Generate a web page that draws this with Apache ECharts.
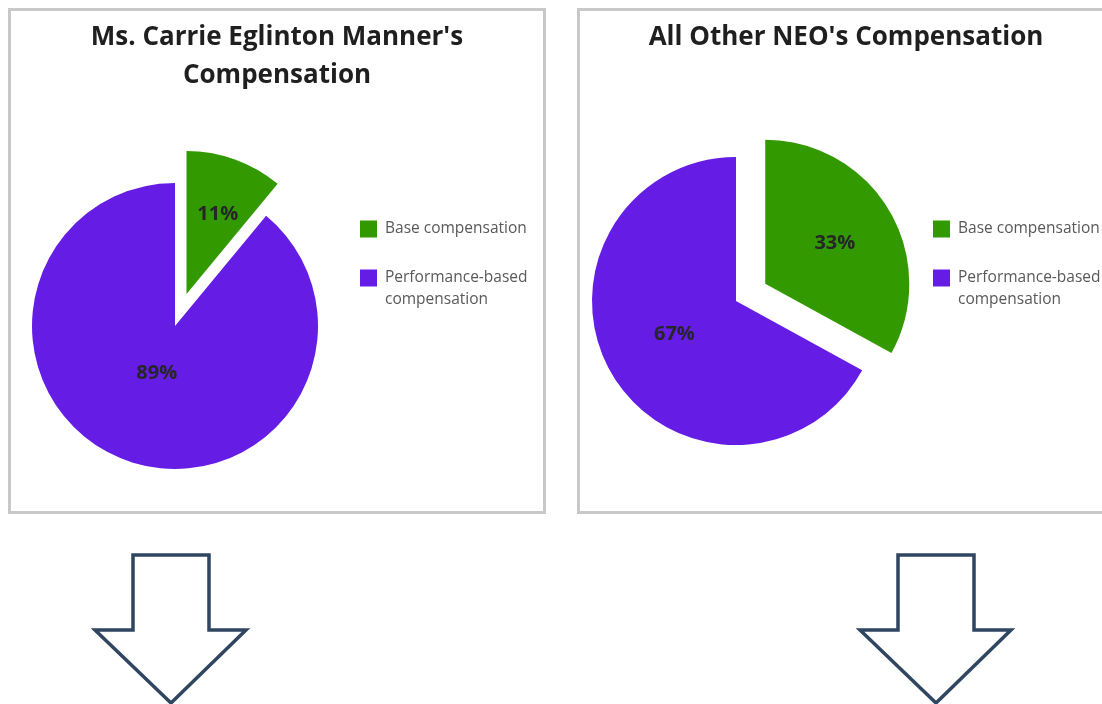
<!DOCTYPE html>
<html>
<head>
<meta charset="utf-8">
<script src="https://cdn.jsdelivr.net/npm/echarts@6/dist/echarts.min.js"></script>
<style>
html,body{margin:0;padding:0;background:#fff;}
#chart{width:1102px;height:704px;}
</style>
</head>
<body>
<div id="chart"></div>
<script>
const categories = ['Base compensation', 'Performance-based compensation'];
const carrieValues = [11, 89];
const otherNeoValues = [33, 67];
const panelTitles = ["Ms. Carrie Eglinton Manner's\nCompensation", "All Other NEO's Compensation"];

const GREEN = '#339900';
const PURPLE = '#651DE6';
const FONT = '"Open Sans", "Noto Sans", sans-serif';

const chart = echarts.init(document.getElementById('chart'), null, {renderer: 'canvas'});

function pieSeries(values, center, radius, labelOffsets) {
  return {
    type: 'pie',
    center: center,
    radius: radius,
    startAngle: 90,
    clockwise: true,
    selectedMode: 'single',
    selectedOffset: 34,
    animation: false,
    label: {
      show: true,
      position: 'inside',
      formatter: '{c}%',
      fontFamily: FONT,
      fontWeight: 'bold',
      fontSize: 20,
      color: '#262626'
    },
    labelLine: {show: false},
    emphasis: {disabled: true},
    select: {itemStyle: {borderWidth: 0}},
    itemStyle: {borderWidth: 0},
    data: categories.map((name, i) => ({
      name: name,
      value: values[i],
      selected: i === 0,
      itemStyle: {color: i === 0 ? GREEN : PURPLE},
      label: {offset: labelOffsets[i]},
      select: {label: {offset: labelOffsets[i]}, itemStyle: {borderWidth: 0}}
    }))
  };
}

function legendFor(left, top) {
  return {
    orient: 'vertical',
    left: left,
    top: top,
    padding: 0,
    itemGap: 1,
    itemWidth: 17,
    itemHeight: 17,
    icon: 'rect',
    selectedMode: false,
    textStyle: {fontFamily: FONT, fontSize: 15.5, color: '#595959', lineHeight: 22, padding: [4, 0, 0, 3]},
    formatter: function (name) {
      return name === 'Performance-based compensation' ? '\nPerformance-based\ncompensation' : name;
    },
    data: categories
  };
}

function arrow(cx) {
  return {
    type: 'polygon',
    shape: {points: [
      [cx - 38, 555], [cx + 38, 555], [cx + 38, 630], [cx + 75, 630],
      [cx, 703], [cx - 76, 630], [cx - 38, 630]
    ]},
    style: {fill: '#ffffff', stroke: '#2F4560', lineWidth: 3.5, lineJoin: 'miter'}
  };
}

const option = {
  animation: false,
  backgroundColor: '#ffffff',
  legend: [legendFor(360, 216), legendFor(933, 216)],
  graphic: [
    {type: 'rect', z: -10, shape: {x: 9.5, y: 9.5, width: 535, height: 503}, style: {fill: 'none', stroke: '#C8C8C8', lineWidth: 3}},
    {type: 'rect', z: -10, shape: {x: 578.5, y: 9.5, width: 535, height: 503}, style: {fill: 'none', stroke: '#C8C8C8', lineWidth: 3}},
    {type: 'text', x: 277, y: 57, style: {text: panelTitles[0], align: 'center', verticalAlign: 'middle', font: 'bold 26px ' + FONT, lineHeight: 38, fill: '#1F1F1F'}},
    {type: 'text', x: 846, y: 38, style: {text: panelTitles[1], align: 'center', verticalAlign: 'middle', font: 'bold 26px ' + FONT, lineHeight: 38, fill: '#1F1F1F'}},
    arrow(171),
    arrow(936)
  ],
  series: [
    pieSeries(carrieValues, [175, 326], 143, [[6, -10], [7, -23]]),
    pieSeries(otherNeoValues, [736, 301], 144, [[5, -2], [3, -5]])
  ]
};
chart.setOption(option);
</script>
</body>
</html>
